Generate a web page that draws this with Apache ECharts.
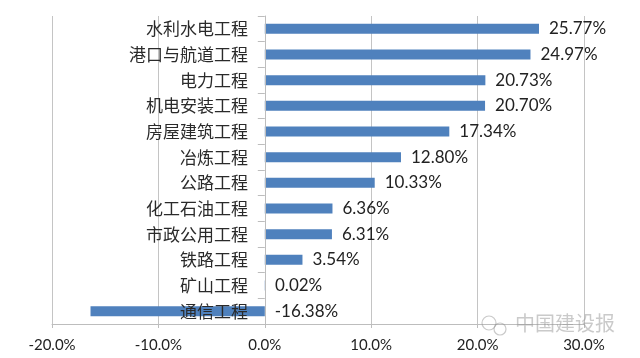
<!DOCTYPE html>
<html><head><meta charset="utf-8">
<script src="https://cdn.jsdelivr.net/npm/echarts@6/dist/echarts.min.js"></script>
<style>html,body{margin:0;padding:0;background:#fff}#c{width:640px;height:358px}</style>
</head><body><div id="c"></div>
<script>
const categories = ['水利水电工程','港口与航道工程','电力工程','机电安装工程','房屋建筑工程','冶炼工程','公路工程','化工石油工程','市政公用工程','铁路工程','矿山工程','通信工程'];
const values = [25.77, 24.97, 20.73, 20.70, 17.34, 12.80, 10.33, 6.36, 6.31, 3.54, 0.02, -16.38];
const xTicks = [-20, -10, 0, 10, 20, 30];

const chart = echarts.init(document.getElementById('c'));
const font = 'Lato, "Noto Sans CJK SC", sans-serif';
chart.setOption({
  animation: false,
  grid: {left: 52, right: 56, top: 16, bottom: 34, containLabel: false, outerBoundsMode: 'none'},
  xAxis: {
    type: 'value', min: xTicks[0], max: xTicks[xTicks.length-1], interval: 10,
    axisLine: {show: true, lineStyle: {color: '#bdbdbd'}},
    axisTick: {show: true, length: 4, lineStyle: {color: '#bdbdbd'}},
    splitLine: {show: true, lineStyle: {color: '#c4c4c4'}},
    axisLabel: {color: '#222', fontSize: 15, fontFamily: font, margin: 14,
      formatter: v => v.toFixed(1) + '%'}
  },
  yAxis: {
    type: 'category', data: categories, inverse: true, z: 5,
    axisLine: {show: true, onZero: true, lineStyle: {color: '#bdbdbd'}},
    axisTick: {show: true, length: 7, lineStyle: {color: '#bdbdbd'}},
    axisLabel: {color: '#2a2a2a', fontSize: 17, fontFamily: '"Noto Sans CJK SC", sans-serif', margin: -196}
  },
  series: [{
    type: 'bar', data: values, barWidth: 10,
    itemStyle: {color: '#4f81bd'},
    label: {show: true, position: 'right', distance: 10, color: '#222', fontSize: 17, fontFamily: font,
      formatter: p => p.value.toFixed(2) + '%'}
  }],
  graphic: [{
    type: 'text', left: 515, top: 313, z: 10,
    style: {text: '中国建设报', fill: 'rgba(150,150,150,0.5)', font: '20px "Noto Sans CJK SC", sans-serif'}
  }, {
    type: 'circle', shape: {cx: 489, cy: 323, r: 7}, z: 10,
    style: {fill: 'none', stroke: 'rgba(150,150,150,0.5)', lineWidth: 1.2}
  }, {
    type: 'circle', shape: {cx: 500, cy: 329, r: 6}, z: 10,
    style: {fill: 'none', stroke: 'rgba(150,150,150,0.5)', lineWidth: 1.2}
  }]
});
</script></body></html>
